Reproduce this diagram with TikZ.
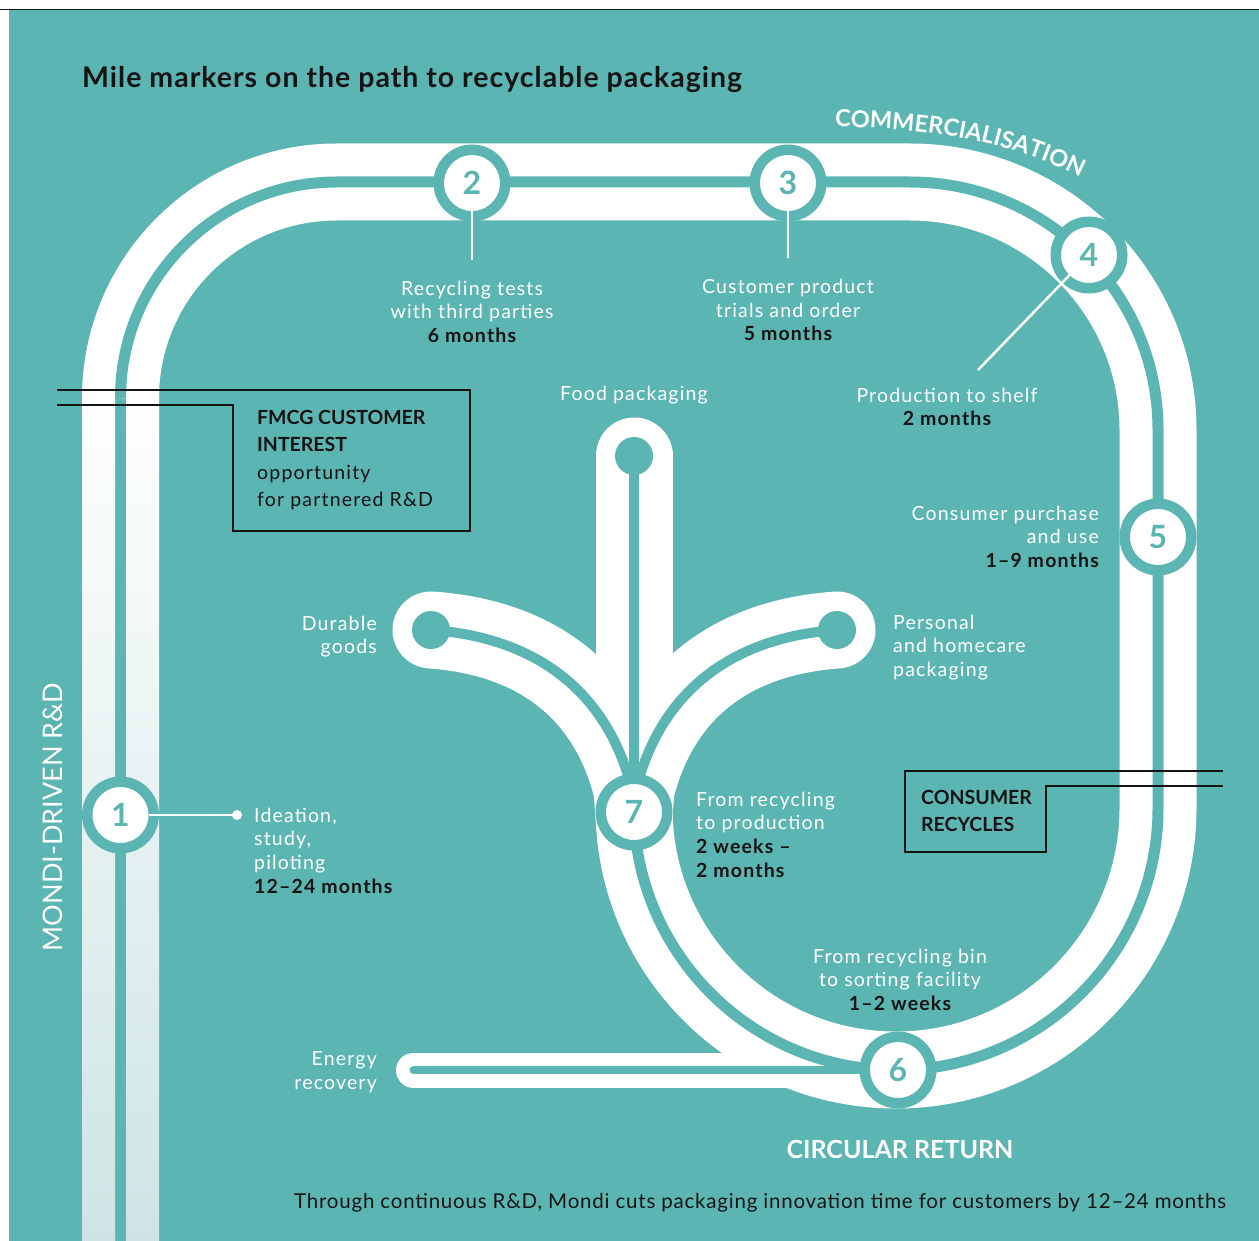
\documentclass[tikz,border=0pt]{standalone}
\usepackage{fontspec}
\setmainfont{Lato}
\newfontfamily\lblfont[LetterSpace=6]{Lato}
\newfontfamily\titlefont[LetterSpace=3.5]{Lato}
\newfontfamily\footfont[LetterSpace=3.8]{Lato}
\usetikzlibrary{calc,decorations.text}
\definecolor{teal0}{RGB}{91,181,179}
\definecolor{ink}{RGB}{20,20,20}
\definecolor{fade}{RGB}{206,228,228}
\newcommand\monthtxt[1]{{\color{ink}\bfseries #1}}
\begin{document}
\begin{tikzpicture}[x=1pt,y=-1pt,
  road/.style={white, line width=77pt},
  midline/.style={teal0, line width=11pt},
  branchline/.style={teal0, line width=10pt},
  marker/.style={circle, minimum size=66.5pt, inner sep=0pt, fill=white, draw=teal0, line width=10.5pt, text=teal0, font=\fontsize{32}{32}\selectfont\bfseries},
  lbl/.style={inner sep=0pt, text=white, font=\lblfont\fontsize{19.5}{23.7}\selectfont},
  leader/.style={white, line width=2.5pt},
  boxline/.style={ink, line width=2.8pt},
  boxtxt/.style={inner sep=0pt, text=ink, font=\fontsize{19.5}{27.3}\selectfont, align=left, anchor=north west}]
\useasboundingbox (0,0) rectangle (1259,1241);
% background
\fill[white] (0,0) rectangle (1259,1241);
\fill[teal0] (9,10) rectangle (1259,1241);
\draw[ink, line width=1.2pt] (0,9.5) -- (1259,9.5);
% left lanes with fading
\shade[top color=white, bottom color=fade] (82,390) rectangle (115,1241);
\shade[top color=white, bottom color=fade] (126,390) rectangle (159,1241);
% main loop road
\draw[road] (120.5,390) -- (120.5,398) arc[start angle=180, end angle=270, radius=216]
  -- (910,182) arc[start angle=270, end angle=360, radius=248]
  -- (1158,808) arc[start angle=0, end angle=180, radius=262];
% branch roads
\draw[road, line cap=round] (634,456) -- (634,815);
\draw[road, line cap=round, line join=round] (431,630) .. controls (545,638) and (610,700) .. (632,790) -- (634,815);
\draw[road, line cap=round, line join=round] (837,630) .. controls (723,638) and (658,700) .. (636,790) -- (634,815);
\draw[white, line width=35pt, line cap=round] (413.5,1070) -- (900,1070);
% centre lines
\draw[midline] (120.5,390) -- (120.5,398) arc[start angle=180, end angle=270, radius=216]
  -- (910,182) arc[start angle=270, end angle=360, radius=248]
  -- (1158,808) arc[start angle=0, end angle=180, radius=262];
\draw[branchline] (634,456) -- (634,812);
\draw[branchline, line join=round] (431,630) .. controls (545,638) and (610,700) .. (632,790) -- (634,812);
\draw[branchline, line join=round] (837,630) .. controls (723,638) and (658,700) .. (636,790) -- (634,812);
\draw[teal0, line width=8pt, line cap=round] (413.5,1070) -- (900,1070);
% terminal dots
\fill[teal0] (634,456) circle[radius=19pt];
\fill[teal0] (431,630) circle[radius=19pt];
\fill[teal0] (837,630) circle[radius=19pt];
% markers
\node[marker] (c1) at (120.5,815) {1};
\node[marker] (c2) at (472,183) {2};
\node[marker] (c3) at (788,183) {3};
\node[marker] (c4) at (1089,255) {4};
\node[marker] (c5) at (1158,537) {5};
\node[marker] (c6) at (898,1070) {6};
\node[marker] (c7) at (634,812) {7};
% leaders
\coordinate (l1) at (237,815);
\coordinate (l2) at (472,260);
\coordinate (l3) at (788,258);
\coordinate (l4) at (978,370);
\draw[leader] ($(c1)+(28,0)$) -- (l1);
\fill[white] (l1) circle[radius=5pt];
\draw[leader] ($(c2)+(0,28)$) -- (l2);
\draw[leader] ($(c3)+(0,28)$) -- (l3);
\draw[leader] ($(c4)!28pt!(l4)$) -- (l4);
% boxes
\draw[boxline] (57,390) -- (470,390) -- (470,531) -- (233,531) -- (233,405) -- (57,405);
\draw[boxline] (1223,771) -- (905,771) -- (905,852) -- (1046,852) -- (1046,786) -- (1223,786);
\node[boxtxt] (fmcg) at (257,410) {\bfseries FMCG CUSTOMER\\\bfseries INTEREST\\{\lblfont opportunity}\\{\lblfont for partnered R\&D}};
\node[boxtxt, font=\fontsize{19.5}{27}\selectfont\bfseries] (cons) at (921,790) {CONSUMER\\RECYCLES};
% labels
\node[inner sep=0pt, anchor=base west, text=ink, font=\titlefont\fontsize{28.5}{30}\selectfont\bfseries] (title) at (82,88) {Mile markers on the path to recyclable packaging};
\path[decorate, decoration={text along path, text align=left, text={|\fontsize{23.5}{23.5}\selectfont\bfseries\color{white}|COMMERCIALISATION}}] (835,127) .. controls (930,128) and (1020,140) .. (1112,194);
\node[lbl, align=center, anchor=north] (t2) at (472,280.5) {Recycling tests\\with third parties\\\monthtxt{6 months}};
\node[lbl, align=center, anchor=north] (t3) at (788,279) {Customer product\\trials and order\\\monthtxt{5 months}};
\node[lbl, align=center, anchor=north] (t4) at (947,387.5) {Production to shelf\\\monthtxt{2 months}};
\node[lbl, align=right, anchor=north east] (t5) at (1099,505.5) {Consumer purchase\\and use\\\monthtxt{1–9 months}};
\node[lbl, align=left, anchor=north west] (tpers) at (893,614.5) {Personal\\and homecare\\packaging};
\node[lbl, align=right, anchor=north east] (tdur) at (377,615.5) {Durable\\goods};
\node[lbl, anchor=base] (tfood) at (634,400) {Food packaging};
\node[lbl, align=left, anchor=north west] (t1) at (254,807.5) {Ideation,\\study,\\piloting\\\monthtxt{12–24 months}};
\node[lbl, align=left, anchor=north west] (t7) at (696,791.5) {From recycling\\to production\\\monthtxt{2 weeks –}\\\monthtxt{2 months}};
\node[lbl, align=center, anchor=north] (t6) at (900,948.5) {From recycling bin\\to sorting facility\\\monthtxt{1–2 weeks}};
\node[lbl, align=right, anchor=north east] (ten) at (377,1051.5) {Energy\\recovery};
\node[inner sep=0pt, anchor=base, text=white, font=\fontsize{25}{25}\selectfont\bfseries] (circ) at (900,1158) {CIRCULAR RETURN};
\node[inner sep=0pt, anchor=base, rotate=90, text=white, font=\fontsize{27}{27}\selectfont] (mondi) at (62,817) {MONDI-DRIVEN R\&D};
\node[inner sep=0pt, anchor=base west, text=ink, font=\footfont\fontsize{20.5}{22}\selectfont] (foot) at (294,1208) {Through continuous R\&D, Mondi cuts packaging innovation time for customers by 12–24 months};
\end{tikzpicture}
\end{document}
